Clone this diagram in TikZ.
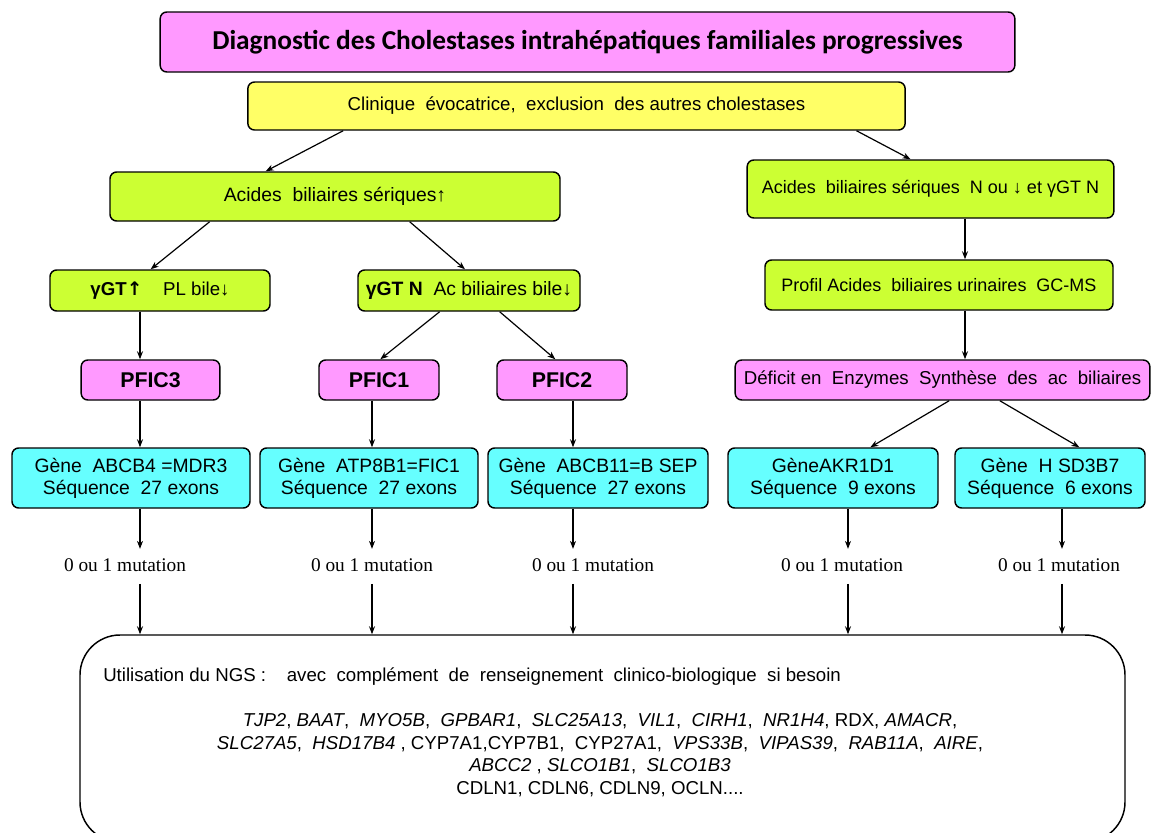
\documentclass[tikz,border=0pt]{standalone}
\usepackage{fontspec}
\setmainfont{Liberation Sans}
\newfontfamily\titlefont{Carlito}
\newfontfamily\seriffont{Liberation Serif}
\newfontfamily\dejavu{DejaVu Sans}
\usetikzlibrary{arrows.meta}
\definecolor{cmag}{HTML}{FF99FF}
\definecolor{cyel}{HTML}{FFFF66}
\definecolor{cgrn}{HTML}{CCFF33}
\definecolor{ccyan}{HTML}{66FFFF}
\begin{document}
\begin{tikzpicture}[x=0.75pt,y=-0.75pt,
  box/.style={draw=black, line width=1.1pt, rounded corners=5pt, align=center, inner sep=0pt},
  arr/.style={-{Stealth[length=6pt,width=4.5pt]}, line width=0.9pt},
  gene/.style={box, fill=ccyan, minimum height=45pt, font=\fontsize{14.5}{16.5}\selectfont},
  pfic/.style={box, fill=cmag, minimum height=30pt, font=\bfseries\fontsize{16}{18}\selectfont},
  green/.style={box, fill=cgrn},
  mut/.style={font=\seriffont\fontsize{14.5}{16}\selectfont, inner sep=1pt}
]
\useasboundingbox (0,0) rectangle (1153,832);

% top boxes
\node[box, fill=cmag, minimum width=641pt, minimum height=45pt, font=\titlefont\bfseries\fontsize{20.5}{23}\selectfont] (title) at (587.5,42) {Diagnostic des Cholestases intrahépatiques familiales progressives};
\node[box, fill=cyel, minimum width=493pt, minimum height=36pt, font=\fontsize{14}{16}\selectfont] (clin) at (576.5,106) {Clinique\ \ évocatrice,\ \ exclusion\ \ des autres cholestases};

\node[green, minimum width=337.5pt, minimum height=36.75pt, font=\fontsize{14.5}{16}\selectfont] (acup) at (335,196.5) {Acides\ \ biliaires sériques↑};
\node[green, minimum width=275pt, minimum height=43.5pt, font=\fontsize{13.5}{16}\selectfont] (acn) at (930.5,189) {Acides\ \ biliaires sériques\ \ N ou ↓ et γGT N};

\node[green, minimum width=165pt, minimum height=30.75pt, font=\fontsize{14}{16}\selectfont] (ggtup) at (160,290.5) {\textbf{γGT}{\dejavu\bfseries ↑}\ \ \ \ PL bile↓};
\node[green, minimum width=166.5pt, minimum height=30.75pt, font=\fontsize{14.5}{16}\selectfont] (ggtn) at (469,290.5) {\textbf{γGT N}\ \ Ac biliaires bile↓};
\node[green, minimum width=261pt, minimum height=37.5pt, font=\fontsize{13.5}{16}\selectfont] (prof) at (939,285) {Profil Acides\ \ biliaires urinaires\ \ GC-MS};

\node[pfic, minimum width=104pt] (p3) at (150.5,380) {PFIC3};
\node[pfic, minimum width=90pt] (p1) at (379,380) {PFIC1};
\node[pfic, minimum width=97.5pt] (p2) at (562,380) {PFIC2};
\node[box, fill=cmag, minimum width=311pt, minimum height=30pt, font=\fontsize{14}{16}\selectfont] (def) at (942.5,380) {Déficit en\ \ Enzymes\ \ Synthèse\ \ des\ \ ac\ \ biliaires};

\node[gene, minimum width=178.5pt] (g3) at (131,478) {Gène\ \ ABCB4 =MDR3\\Séquence\ \ 27 exons};
\node[gene, minimum width=163.5pt] (g1) at (369,478) {Gène\ \ ATP8B1=FIC1\\Séquence\ \ 27 exons};
\node[gene, minimum width=165pt] (g2) at (598,478) {Gène\ \ ABCB11=B SEP\\Séquence\ \ 27 exons};
\node[gene, minimum width=157.5pt] (ga) at (833,478) {GèneAKR1D1\\Séquence\ \ 9 exons};
\node[gene, minimum width=142.5pt] (gh) at (1050,478) {Gène\ \ H SD3B7\\Séquence\ \ 6 exons};

% x guides
\coordinate (x3) at (140,0);
\coordinate (x1) at (372,0);
\coordinate (x2) at (573,0);
\coordinate (xa) at (848,0);
\coordinate (xh) at (1062,0);
\coordinate (xr) at (965,0);

\node[mut] (m3) at (125,565) {0 ou 1 mutation};
\node[mut] (m1) at (372,565) {0 ou 1 mutation};
\node[mut] (m2) at (593,565) {0 ou 1 mutation};
\node[mut] (ma) at (842,565) {0 ou 1 mutation};
\node[mut] (mh) at (1059,565) {0 ou 1 mutation};

% NGS box
\node[draw=black, line width=1.1pt, rounded corners=30pt, minimum width=783.75pt, minimum height=155.25pt, inner sep=0pt] (ngs) at (602.5,738.5) {};
\node[anchor=west, font=\fontsize{14}{16}\selectfont, inner sep=0pt] (ngst) at (103,677) {Utilisation du NGS :\ \ \ \ avec\ \ complément\ \ de\ \ renseignement\ \ clinico-biologique\ \ si besoin};
\node[align=center, font=\fontsize{14}{17}\selectfont, inner sep=0pt] (list) at (600,755) {\textit{TJP2}, \textit{BAAT},\ \ \textit{MYO5B},\ \ \textit{GPBAR1},\ \ \textit{SLC25A13},\ \ \textit{VIL1},\ \ \textit{CIRH1},\ \ \textit{NR1H4}, RDX, \textit{AMACR},\\
\textit{SLC27A5},\ \ \textit{HSD17B4} , CYP7A1,CYP7B1,\ \ CYP27A1,\ \ \textit{VPS33B},\ \ \textit{VIPAS39},\ \ \textit{RAB11A},\ \ \textit{AIRE},\\
\textit{ABCC2} , \textit{SLCO1B1},\ \ \textit{SLCO1B3}\\
CDLN1, CDLN6, CDLN9, OCLN....};

% connectors
\draw[arr] ([xshift=-175pt]clin.south) -- ([xshift=-52pt]acup.north);
\draw[arr] ([xshift=210pt]clin.south) -- ([xshift=-15pt]acn.north);
\draw[arr] ([xshift=-94pt]acup.south) -- ([xshift=-7pt]ggtup.north);
\draw[arr] ([xshift=56pt]acup.south) -- ([xshift=-3pt]ggtn.north);
\draw[arr] (ggtup.south -| x3) -- (p3.north -| x3);
\draw[arr] ([xshift=-22pt]ggtn.south) -- ([xshift=1pt]p1.north);
\draw[arr] ([xshift=23pt]ggtn.south) -- ([xshift=-5pt]p2.north);
\draw[arr] (acn.south -| xr) -- (prof.north -| xr);
\draw[arr] (prof.south -| xr) -- (def.north -| xr);
\draw[arr] ([xshift=5pt]def.south) -- ([xshift=28pt]ga.north);
\draw[arr] ([xshift=43pt]def.south) -- ([xshift=22pt]gh.north);
\draw[arr] (p3.south -| x3) -- (g3.north -| x3);
\draw[arr] (p1.south -| x1) -- (g1.north -| x1);
\draw[arr] (p2.south -| x2) -- (g2.north -| x2);
\draw[arr] (g3.south -| x3) -- ([yshift=6pt]m3.north -| x3);
\draw[arr] (g1.south -| x1) -- ([yshift=6pt]m1.north -| x1);
\draw[arr] (g2.south -| x2) -- ([yshift=6pt]m2.north -| x2);
\draw[arr] (ga.south -| xa) -- ([yshift=6pt]ma.north -| xa);
\draw[arr] (gh.south -| xh) -- ([yshift=6pt]mh.north -| xh);
\draw[arr] ([yshift=-8pt]m3.south -| x3) -- (ngs.north -| x3);
\draw[arr] ([yshift=-8pt]m1.south -| x1) -- (ngs.north -| x1);
\draw[arr] ([yshift=-8pt]m2.south -| x2) -- (ngs.north -| x2);
\draw[arr] ([yshift=-8pt]ma.south -| xa) -- (ngs.north -| xa);
\draw[arr] ([yshift=-8pt]mh.south -| xh) -- (ngs.north -| xh);
\end{tikzpicture}
\end{document}
